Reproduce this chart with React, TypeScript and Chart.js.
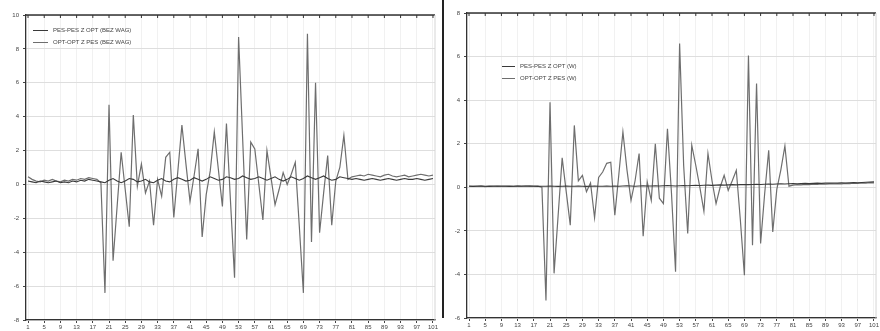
import React, { useEffect, useRef } from 'react';
import { Chart, registerables } from 'chart.js';
Chart.register(...registerables);

const categories: string[] = Array.from({ length: 101 }, (_, i) => String(i + 1));

const leftLabels = ['PES-PES Z OPT (BEZ WAG)', 'OPT-OPT Z PES (BEZ WAG)'];
const rightLabels = ['PES-PES Z OPT (W)', 'OPT-OPT Z PES (W)'];

// Left chart (bez wag)
const leftPes = [
  0.2, 0.15, 0.1, 0.2, 0.15, 0.1, 0.15, 0.2, 0.1, 0.15, 0.1, 0.2, 0.15, 0.25, 0.2, 0.3, 0.25, 0.2,
  0.15, 0.1, 0.25, 0.35, 0.2, 0.1, 0.2, 0.35, 0.3, 0.15, 0.2, 0.3, 0.15, 0.1, 0.25, 0.35, 0.2, 0.15,
  0.3, 0.4, 0.3, 0.2, 0.25, 0.4, 0.3, 0.2, 0.3, 0.45, 0.35, 0.25, 0.3, 0.45, 0.4, 0.3, 0.35, 0.5,
  0.4, 0.3, 0.35, 0.45, 0.35, 0.25, 0.35, 0.45, 0.3, 0.2, 0.3, 0.45, 0.35, 0.25, 0.35, 0.5, 0.4, 0.3,
  0.4, 0.5, 0.35, 0.25, 0.3, 0.45, 0.4, 0.35,
  0.3, 0.35, 0.3, 0.25, 0.3, 0.35, 0.3, 0.25, 0.3, 0.35, 0.3, 0.25, 0.3, 0.35, 0.3, 0.3, 0.35, 0.3, 0.25, 0.3, 0.35,
];
const leftOpt = [
  0.45, 0.3, 0.2, 0.15, 0.25, 0.2, 0.3, 0.2, 0.15, 0.25, 0.2, 0.3, 0.25, 0.35, 0.3, 0.4, 0.35, 0.3,
  0.1, -6.4, 4.7, -4.5, -1.3, 1.9, -0.3, -2.5, 4.1, -0.1, 1.2, -0.5, 0.2, -2.4, 0.3, -0.7, 1.6, 1.9,
  -1.95, 0.8, 3.5, 1.2, -1.0, 0.5, 2.1, -3.1, -0.6, 0.8, 3.1, 0.9, -1.3, 3.6, -1.0, -5.5, 8.7, 2.7,
  -3.25, 2.5, 2.1, 0.0, -2.1, 2.0, 0.4, -1.2, -0.3, 0.7, 0.0, 0.6, 1.3, -2.5, -6.4, 8.9, -3.4, 6.0,
  -2.85, -0.5, 1.7, -2.4, 0.2, 1.0, 2.9, 0.3,
  0.45, 0.5, 0.55, 0.5, 0.6, 0.55, 0.5, 0.45, 0.55, 0.6, 0.5, 0.45, 0.5, 0.55, 0.45, 0.5, 0.55, 0.6, 0.55, 0.5, 0.55,
];

// Right chart (W)
const rightPes = [
  0.05, 0.04, 0.05, 0.06, 0.05, 0.04, 0.05, 0.06, 0.05, 0.05, 0.04, 0.05, 0.06, 0.05, 0.05, 0.06, 0.05, 0.04,
  0.05, 0.05, 0.06, 0.05, 0.04, 0.05, 0.06, 0.05, 0.05, 0.06, 0.05, 0.04, 0.05, 0.06, 0.05, 0.05, 0.06, 0.05,
  0.06, 0.05, 0.06, 0.07, 0.06, 0.05, 0.06, 0.07, 0.06, 0.06, 0.07, 0.06, 0.07, 0.08, 0.07, 0.06, 0.07, 0.08,
  0.07, 0.08, 0.09, 0.08, 0.09, 0.1, 0.09, 0.1, 0.11, 0.1, 0.11, 0.12, 0.11, 0.12, 0.13, 0.12, 0.13, 0.14,
  0.13, 0.14, 0.15, 0.14, 0.15, 0.16, 0.15, 0.16,
  0.17, 0.16, 0.17, 0.18, 0.17, 0.18, 0.19, 0.18, 0.19, 0.2, 0.19, 0.2, 0.21, 0.2, 0.21, 0.22, 0.21, 0.22, 0.23, 0.24, 0.25,
];
const rightOpt = [
  0.05, 0.04, 0.06, 0.05, 0.03, 0.05, 0.06, 0.04, 0.05, 0.06, 0.05, 0.04, 0.06, 0.05, 0.07, 0.05, 0.06, 0.05,
  0.0, -5.2, 3.9, -3.95, -1.3, 1.35, -0.2, -1.74, 2.84, 0.3, 0.55, -0.2, 0.2, -1.4, 0.45, 0.7, 1.1, 1.15,
  -1.28, 0.6, 2.54, 0.8, -0.6, 0.3, 1.55, -2.25, 0.25, -0.6, 2.0, -0.5, -0.75, 2.69, -0.3, -3.88, 6.6, 1.0,
  -2.12, 1.93, 1.0, 0.0, -1.1, 1.55, 0.3, -0.75, 0.0, 0.55, -0.14, 0.3, 0.78, -1.5, -4.04, 6.05, -2.66, 4.76,
  -2.58, -0.3, 1.7, -2.05, -0.1, 0.8, 1.9, 0.05,
  0.1, 0.12, 0.11, 0.13, 0.12, 0.14, 0.13, 0.15, 0.14, 0.16, 0.15, 0.17, 0.16, 0.18, 0.17, 0.19, 0.18, 0.2, 0.19, 0.21, 0.2,
];

const PES_COLOR = '#3a3a3a';
const OPT_COLOR = '#6e6e6e';
const FONT = 'Liberation Sans';

const framePlugin = {
  id: 'frame',
  afterDraw(chart: any) {
    const { ctx, chartArea } = chart;
    const xs = chart.scales.x;
    ctx.save();
    ctx.strokeStyle = '#333';
    ctx.lineWidth = 1.3;
    ctx.beginPath();
    ctx.moveTo(chartArea.left, chartArea.top);
    ctx.lineTo(chartArea.right, chartArea.top);
    ctx.stroke();
    ctx.lineWidth = 1;
    for (let i = 0; i < categories.length; i += 4) {
      const px = xs.getPixelForValue(i);
      ctx.beginPath();
      ctx.moveTo(px, chartArea.top);
      ctx.lineTo(px, chartArea.top + 3);
      ctx.stroke();
    }
    ctx.strokeStyle = '#d5d5d5';
    ctx.beginPath();
    ctx.moveTo(chartArea.right, chartArea.top);
    ctx.lineTo(chartArea.right, chartArea.bottom);
    ctx.stroke();
    ctx.restore();
  },
};

function makeConfig(pes: number[], opt: number[], labels: string[], yMin: number, yMax: number,
  pad: any, yWidth: number, xHeight: number): any {
  return {
    type: 'line',
    data: {
      labels: categories,
      datasets: [
        { label: labels[0], data: pes, borderColor: PES_COLOR, borderWidth: 1.1, pointRadius: 0, tension: 0 },
        { label: labels[1], data: opt, borderColor: OPT_COLOR, borderWidth: 1.2, pointRadius: 0, tension: 0 },
      ],
    },
    options: {
      animation: false,
      responsive: false,
      maintainAspectRatio: false,
      layout: { padding: pad },
      plugins: { legend: { display: false }, tooltip: { enabled: false } },
      scales: {
        x: {
          type: 'category',
          offset: true,
          afterFit: (s: any) => { s.height = xHeight; },
          border: { display: true, color: '#333', width: 1.3 },
          grid: {
            offset: false,
            drawOnChartArea: true,
            tickLength: 3,
            color: (c: any) => (c.index % 4 === 0 ? '#f1f1f1' : 'rgba(0,0,0,0)'),
            tickColor: (c: any) => (c.index % 4 === 0 ? '#444' : 'rgba(0,0,0,0)'),
          },
          ticks: {
            autoSkip: false,
            maxRotation: 0,
            minRotation: 0,
            padding: 1,
            color: '#444',
            font: { size: 6, family: FONT },
            callback: (_v: any, i: number) => (i % 4 === 0 ? categories[i] : ''),
          },
        },
        y: {
          min: yMin,
          max: yMax,
          afterFit: (s: any) => { s.width = yWidth; },
          border: { display: true, color: '#333', width: 1.3 },
          grid: { color: '#dedede', tickLength: 3, tickColor: '#444' },
          ticks: { stepSize: 2, padding: 4, color: '#444', font: { size: 6, family: FONT } },
        },
      },
    },
    plugins: [framePlugin],
  };
}

function Legend({ labels, left, top, lineW }: { labels: string[]; left: number; top: number; lineW: number }) {
  const colors = [PES_COLOR, OPT_COLOR];
  return (
    <div style={{ position: 'absolute', left, top }}>
      {labels.map((l, i) => (
        <div key={i} style={{ display: 'flex', alignItems: 'center', height: 12 }}>
          <div style={{ width: lineW, height: 1, background: colors[i], marginRight: 5 }} />
          <span style={{ font: `6px "${FONT}"`, color: '#444', whiteSpace: 'nowrap' }}>{l}</span>
        </div>
      ))}
    </div>
  );
}

export default function App() {
  const leftRef = useRef<HTMLCanvasElement>(null);
  const rightRef = useRef<HTMLCanvasElement>(null);

  useEffect(() => {
    const c1 = new Chart(leftRef.current as HTMLCanvasElement,
      makeConfig(leftPes, leftOpt, leftLabels, -8, 10, { left: 0, right: 5, top: 15, bottom: 0 }, 26, 11));
    const c2 = new Chart(rightRef.current as HTMLCanvasElement,
      makeConfig(rightPes, rightOpt, rightLabels, -6, 8, { left: 0, right: 0, top: 13, bottom: 0 }, 27, 13));
    return () => { c1.destroy(); c2.destroy(); };
  }, []);

  return (
    <div style={{ position: 'fixed', left: 0, top: 0, width: 880, height: 331, background: '#fff', overflow: 'hidden' }}>
      <canvas ref={leftRef} width={440} height={331} style={{ position: 'absolute', left: 0, top: 0, width: 440, height: 331 }} />
      <canvas ref={rightRef} width={440} height={331} style={{ position: 'absolute', left: 440, top: 0, width: 440, height: 331 }} />
      <div style={{ position: 'absolute', left: 442, top: 0, width: 2, height: 318, background: '#222' }} />
      <Legend labels={leftLabels} left={33} top={24} lineW={15} />
      <Legend labels={rightLabels} left={502} top={60} lineW={13} />
    </div>
  );
}
